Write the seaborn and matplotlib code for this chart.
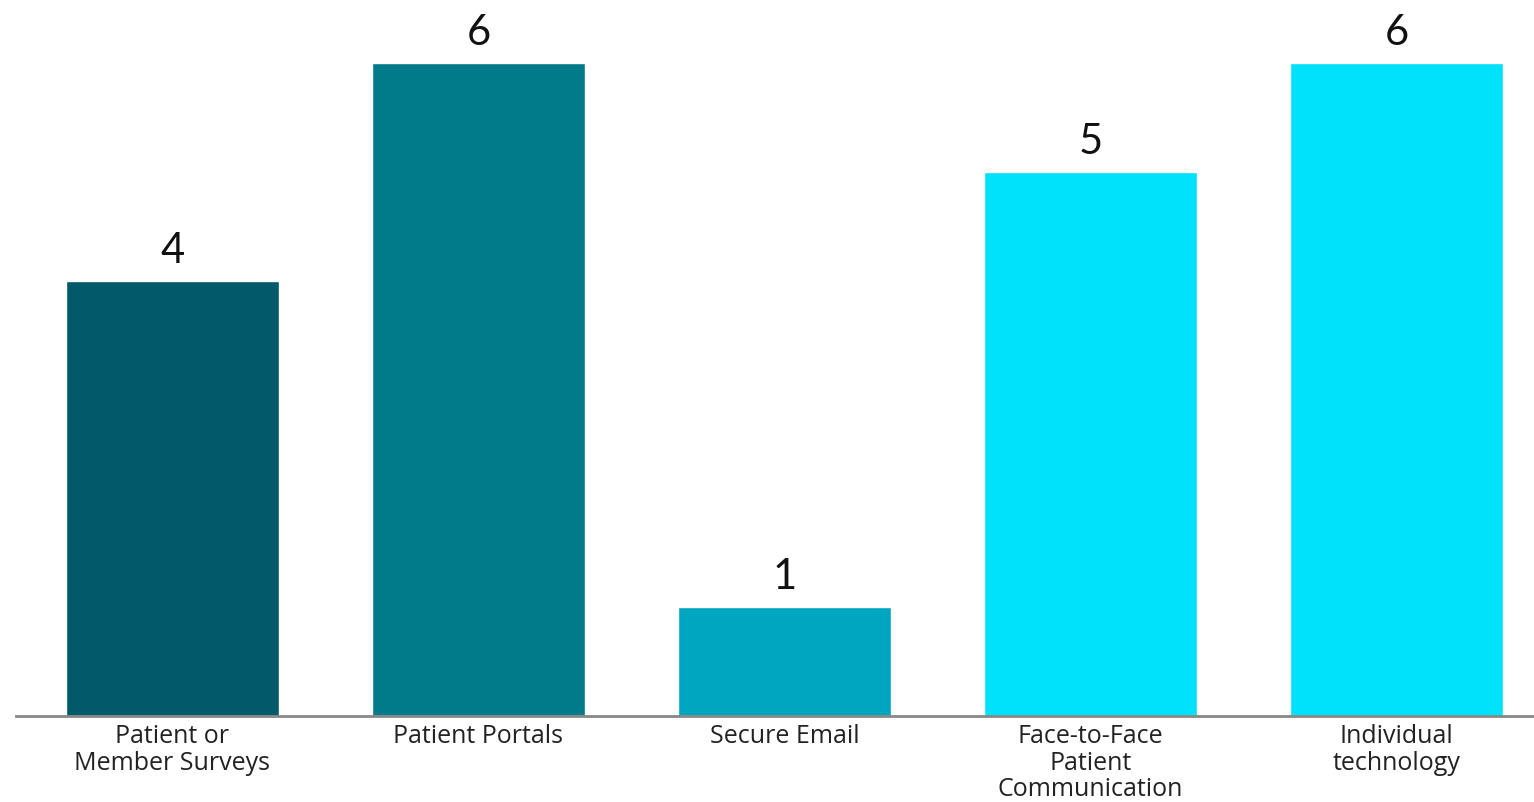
import matplotlib
matplotlib.use("Agg")
import matplotlib.pyplot as plt
import seaborn as sns
import pandas as pd

categories = [
    "Patient or\nMember Surveys",
    "Patient Portals",
    "Secure Email",
    "Face-to-Face\nPatient\nCommunication",
    "Individual\ntechnology",
]
counts = [4, 6, 1, 5, 6]
bar_colors = ["#02596a", "#017a8a", "#00a5bf", "#00e1fc", "#00e1fc"]

df = pd.DataFrame({"category": categories, "count": counts})

sns.set_theme(style="white")
plt.rcParams["font.family"] = ["Open Sans", "DejaVu Sans"]

fig = plt.figure(figsize=(15.34, 8.02), dpi=100)
ax = fig.add_axes([16 / 1534, 86 / 802, 1518 / 1534, 716 / 802])

sns.barplot(data=df, x="category", y="count", hue="category",
            palette=bar_colors, legend=False, width=0.696,
            saturation=1, ax=ax)

for i, v in enumerate(counts):
    ax.text(i, v + 0.1, str(v), ha="center", va="bottom",
            fontsize=30, color="#111111", family=["Lato", "DejaVu Sans"])

ax.set_xlim(-0.511, 4.449)
ax.set_ylim(0, 6.58)
ax.set_xlabel("")
ax.set_ylabel("")
ax.set_yticks([])
for side in ["top", "right", "left"]:
    ax.spines[side].set_visible(False)
ax.spines["bottom"].set_color("#888888")
ax.spines["bottom"].set_linewidth(2)
ax.tick_params(axis="x", length=0, pad=6, labelsize=18, labelcolor="#222222")
for lbl in ax.get_xticklabels():
    lbl.set_linespacing(1.08)

fig.savefig("out.png", dpi=100)
